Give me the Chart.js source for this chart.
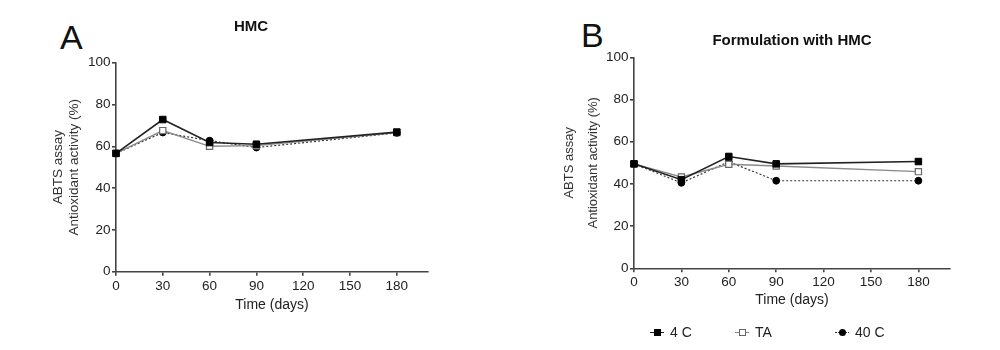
<!DOCTYPE html>
<html><head><meta charset="utf-8">
<script src="https://cdn.jsdelivr.net/npm/chart.js@4"></script>
<style>
html,body{margin:0;padding:0;background:#fff;width:1000px;height:350px;overflow:hidden;font-family:"Liberation Sans",Arial,sans-serif;}
.wrap{position:absolute;top:0;width:500px;height:350px;}
.letter{position:absolute;font-size:34px;line-height:34px;color:#111;}
.leg{position:absolute;top:324px;height:16px;line-height:16px;font-size:14px;color:#222;white-space:nowrap;}
.mk{display:inline-block;position:relative;width:14px;height:16px;vertical-align:top;margin-right:6px;}
.mk .ln{position:absolute;left:0;right:0;top:7.5px;height:0;border-top:1.5px solid #222;}
.mk .sh{position:absolute;left:3.5px;top:4.5px;width:7px;height:7px;box-sizing:border-box;}
</style>
</head><body>
<div class="letter" style="left:60px;top:19.5px;">A</div>
<div class="letter" style="left:581px;top:18px;">B</div>
<div class="wrap" style="left:0px;"><canvas id="chartA" width="500" height="350"></canvas></div>
<div class="wrap" style="left:500px;"><canvas id="chartB" width="500" height="350"></canvas></div>
<div id="legend"></div>
<script>
// ---- data ----
const days = [0, 30, 60, 90, 180];
const xTicks = [0, 30, 60, 90, 120, 150, 180];
const yTicks = [0, 20, 40, 60, 80, 100];
const seriesNames = ['4 C', 'TA', '40 C'];
const titleA = 'HMC';
const titleB = 'Formulation with HMC';
const yTitle = ['ABTS assay', 'Antioxidant activity (%)'];
const xTitle = 'Time (days)';
const hmc4C  = [56.6, 72.8, 61.8, 61.0, 66.8];
const hmcTA  = [56.6, 67.5, 60.0, 60.3, 66.6];
const hmc40C = [56.6, 66.6, 62.7, 59.4, 66.4];
const form4C  = [49.5, 42.0, 53.0, 49.5, 50.6];
const formTA  = [49.5, 43.3, 49.3, 48.5, 45.8];
const form40C = [49.5, 40.5, 50.5, 41.5, 41.5];

// ---- styles ----
Chart.defaults.font.family = '"Liberation Sans", Arial, sans-serif';
Chart.defaults.color = '#222';
const seriesStyles = [
  {borderColor:'#222', borderWidth:1.6, borderDash:[], pointStyle:'rect', pointRadius:4.6, pointBackgroundColor:'#000', pointBorderColor:'#000', pointBorderWidth:1},
  {borderColor:'#8a8a8a', borderWidth:1.4, borderDash:[], pointStyle:'rect', pointRadius:4.4, pointBackgroundColor:'#fff', pointBorderColor:'#666', pointBorderWidth:1.2},
  {borderColor:'#333', borderWidth:1.2, borderDash:[2,2], pointStyle:'circle', pointRadius:3.4, pointBackgroundColor:'#000', pointBorderColor:'#000', pointBorderWidth:1}
];

function makeDatasets(seriesList) {
  return seriesList.map((vals, s) => Object.assign({
    label: seriesNames[s],
    data: days.map((d, i) => ({x: d, y: vals[i]})),
    tension: 0,
    fill: false,
    clip: false,
    pointHoverRadius: 4
  }, seriesStyles[s]));
}

function makeOptions(c) {
  return {
    responsive: false,
    animation: false,
    events: [],
    layout: {padding: c.pad},
    plugins: {
      legend: {display: false},
      tooltip: {enabled: false},
      title: {
        display: true, text: c.title, fullSize: c.titleFull, color: '#111',
        font: {size: 15, weight: 'bold', lineHeight: 1.2},
        padding: c.titlePad
      }
    },
    scales: {
      x: {
        type: 'linear', min: 0, max: 200,
        afterBuildTicks: s => { s.ticks = xTicks.map(v => ({value: v})); },
        afterFit: s => { s.height = c.xHeight; },
        border: {display: true, color: '#444', width: 1.6},
        grid: {display: true, drawOnChartArea: false, drawTicks: true, tickLength: 4, color: '#444', lineWidth: 1.6},
        ticks: {padding: 2, font: {size: 13.5}, color: '#222', maxRotation: 0},
        title: {display: true, text: xTitle, font: {size: 14, lineHeight: 1.2}, color: '#222', padding: {top: 0, bottom: 0}}
      },
      y: {
        type: 'linear', min: 0, max: 100,
        afterBuildTicks: s => { s.ticks = yTicks.map(v => ({value: v})); },
        afterFit: s => { s.width = c.yWidth; },
        border: {display: true, color: '#444', width: 1.6},
        grid: {display: true, drawOnChartArea: false, drawTicks: true, tickLength: 4, color: '#444', lineWidth: 1.6},
        ticks: {padding: 1.5, font: {size: 13.5}, color: '#222'},
        title: {display: true, text: yTitle, font: {size: c.yTitleSize, lineHeight: c.yTitleLH}, color: '#333', padding: {top: c.yTitleOffset, bottom: 0}}
      }
    }
  };
}

new Chart(document.getElementById('chartA'), {
  type: 'line',
  data: {datasets: makeDatasets([hmc4C, hmcTA, hmc40C])},
  options: makeOptions({
    title: titleA, titleFull: true,
    pad: {left: 74, right: 72, top: 0, bottom: 36.6},
    titlePad: {top: 18, bottom: 26.7},
    xHeight: 41.7, yWidth: 42,
    yTitleSize: 13.5, yTitleLH: 1.2, yTitleOffset: -24.1
  })
});

new Chart(document.getElementById('chartB'), {
  type: 'line',
  data: {datasets: makeDatasets([form4C, formTA, form40C])},
  options: makeOptions({
    title: titleB, titleFull: false,
    pad: {left: 57.5, right: 50, top: 0, bottom: 41.1},
    titlePad: {top: 31.8, bottom: 7.5},
    xHeight: 40.6, yWidth: 76.5,
    yTitleSize: 13, yTitleLH: 1.85, yTitleOffset: 0
  })
});

// ---- HTML legend for panel B ----
const legendX = [650, 735, 835];
const legendHtml = seriesNames.map((name, s) => {
  const st = seriesStyles[s];
  const lineStyle = st.borderDash.length ? 'dotted' : 'solid';
  const shape = st.pointStyle === 'circle'
    ? `<span class="sh" style="border-radius:50%;background:${st.pointBackgroundColor};"></span>`
    : `<span class="sh" style="background:${st.pointBackgroundColor};border:${st.pointBorderWidth}px solid ${st.pointBorderColor};"></span>`;
  return `<div class="leg" style="left:${legendX[s]}px;"><span class="mk"><span class="ln" style="border-top-style:${lineStyle};border-top-color:${st.borderColor};"></span>${shape}</span>${name}</div>`;
}).join('');
document.getElementById('legend').innerHTML = legendHtml;
</script>
</body></html>
